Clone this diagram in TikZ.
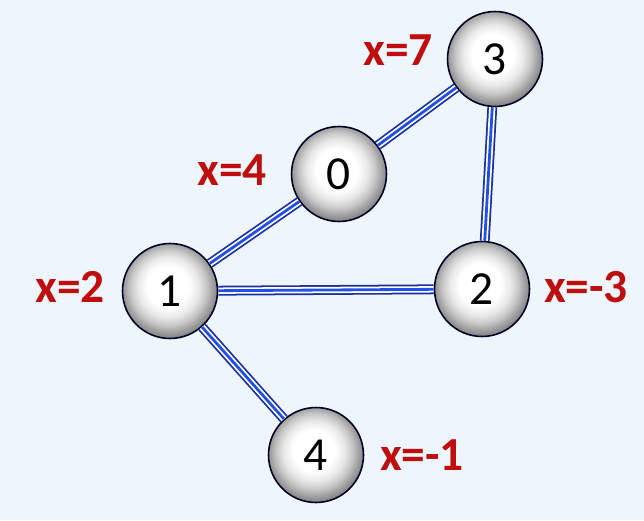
\documentclass[tikz,border=0pt]{standalone}
\usepackage{fontspec}
\setmainfont{Carlito}
\usepackage{tikz}
\usetikzlibrary{calc,positioning}
\definecolor{paper}{HTML}{EEF6FD}
\definecolor{wire-dark}{HTML}{1B2F9C}
\definecolor{wire-blue}{HTML}{2150E6}
\definecolor{tag-red}{HTML}{BE0E0E}
\pgfdeclareradialshading{bead}{\pgfpoint{-1.5bp}{3bp}}{%
  color(0bp)=(white); color(11bp)=(white); color(16bp)=(black!9);
  color(20bp)=(black!22); color(23bp)=(black!36); color(27bp)=(black!52);
  color(50bp)=(black!60)}
\tikzset{
  vertex/.style={circle, draw=black!85!blue, line width=0.9pt, shading=bead, minimum size=1.9cm,
    inner sep=0pt, font=\fontsize{27}{30}\selectfont},
  xtag/.style={text=tag-red, font=\fontsize{27}{30}\selectfont\bfseries},
  wire/.style={line width=5.6pt, draw=wire-dark,
    postaction={draw=white, line width=3.6pt},
    postaction={draw=wire-blue, line width=1.6pt}}
}

\begin{document}
\begin{tikzpicture}[x=0.02cm, y=-0.02cm]
    \fill[paper] (0,0) rectangle (644,520);
    \useasboundingbox (0,0) rectangle (644,520);
    % vertices
    \node[vertex] (n3) at (495,59) {3};
    \node[vertex] (n0) at (339,174) {0};
    \node[vertex] (n1) at (170,291) {1};
    \node[vertex] (n2) at (482,289) {2};
    \node[vertex] (n4) at (316,455) {4};
    % values
    \node[xtag] (t3) at (398,50) {x=7};
    \node[xtag] (t0) at (232,170) {x=4};
    \node[xtag] (t1) at (70,287) {x=2};
    \node[xtag] (t2) at (586,287) {x=-3};
    \node[xtag] (t4) at (422,455) {x=-1};
    % edges
    \draw[wire] (n1) -- (n0);
    \draw[wire] (n0) -- (n3);
    \draw[wire] (n3) -- (n2);
    \draw[wire] (n1) -- (n2);
    \draw[wire] (n1) -- (n4);
\end{tikzpicture}
\end{document}
